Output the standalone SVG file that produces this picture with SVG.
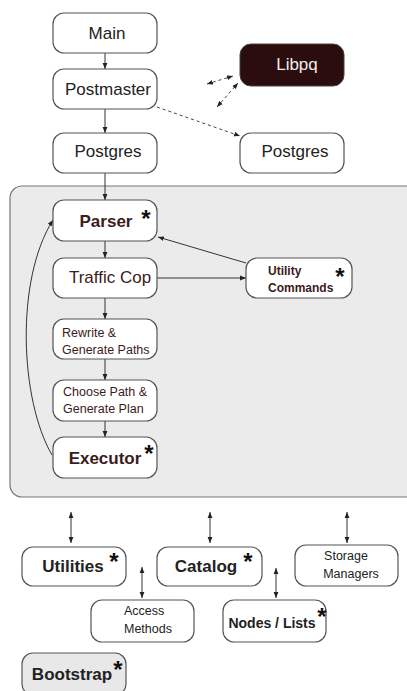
<svg xmlns="http://www.w3.org/2000/svg" width="407" height="691" viewBox="0 0 407 691">
<defs>
<marker id="ah" viewBox="0 0 10 10" refX="10" refY="5" markerWidth="6" markerHeight="6" orient="auto-start-reverse" markerUnits="userSpaceOnUse">
<path d="M0,1 L10,5 L0,9 Z" fill="#222"/>
</marker>
</defs>
<style>
.box{fill:#fff;stroke:#555;stroke-width:1.2}
.t{font-family:"Liberation Sans",Arial,sans-serif;fill:#222}
.b{font-weight:bold}
.br{fill:#3b1c1c}
.ln{fill:none;stroke:#333;stroke-width:1}
.ds{fill:none;stroke:#444;stroke-width:1;stroke-dasharray:3,3}
.ast{font-family:"Liberation Sans",Arial,sans-serif;font-weight:bold;font-size:24px;fill:#111}
</style>
<rect x="10" y="186" width="410" height="311" rx="12" fill="#ebebeb" stroke="#777" stroke-width="1.2"/>
<g id="connectors">
<line class="ln" x1="105" y1="53" x2="105" y2="69" marker-end="url(#ah)"/>
<line class="ln" x1="105" y1="109" x2="105" y2="133" marker-end="url(#ah)"/>
<line class="ds" x1="157" y1="107" x2="240" y2="136" marker-end="url(#ah)"/>
<line class="ds" x1="207" y1="84" x2="233" y2="76" marker-start="url(#ah)" marker-end="url(#ah)"/>
<line class="ds" x1="217" y1="107" x2="238" y2="83" marker-start="url(#ah)" marker-end="url(#ah)"/>
<line class="ln" x1="105" y1="173" x2="105" y2="200" marker-end="url(#ah)"/>
<line class="ln" x1="105" y1="241" x2="105" y2="258" marker-end="url(#ah)"/>
<line class="ln" x1="157" y1="278" x2="246" y2="278" marker-end="url(#ah)"/>
<line class="ln" x1="246" y1="263" x2="158" y2="237" marker-end="url(#ah)"/>
<line class="ln" x1="105" y1="298" x2="105" y2="319" marker-end="url(#ah)"/>
<line class="ln" x1="105" y1="359" x2="105" y2="380" marker-end="url(#ah)"/>
<line class="ln" x1="105" y1="421" x2="105" y2="437" marker-end="url(#ah)"/>
<path class="ln" d="M52,455 C20,400 15,280 53,220" marker-end="url(#ah)"/>
<line class="ln" x1="71" y1="512" x2="71" y2="543" marker-start="url(#ah)" marker-end="url(#ah)"/>
<line class="ln" x1="210" y1="512" x2="210" y2="543" marker-start="url(#ah)" marker-end="url(#ah)"/>
<line class="ln" x1="347" y1="512" x2="347" y2="543" marker-start="url(#ah)" marker-end="url(#ah)"/>
<line class="ln" x1="142" y1="567" x2="142" y2="598" marker-start="url(#ah)" marker-end="url(#ah)"/>
<line class="ln" x1="276" y1="568" x2="276" y2="598" marker-start="url(#ah)" marker-end="url(#ah)"/>
</g>
<g id="main"><rect class="box" x="53" y="13" width="104" height="40" rx="11"/><text class="t" x="107" y="39" font-size="17" text-anchor="middle">Main</text></g>
<g id="postmaster"><rect class="box" x="53" y="69" width="104" height="40" rx="11"/><text class="t" x="108" y="95" font-size="17" text-anchor="middle">Postmaster</text></g>
<g id="postgres1"><rect class="box" x="53" y="133" width="104" height="40" rx="11"/><text class="t" x="108" y="157" font-size="17" text-anchor="middle">Postgres</text></g>
<g id="libpq"><rect x="240" y="44" width="104" height="42" rx="11" fill="#2c0d0d" stroke="#444" stroke-width="1"/><text class="t" x="297" y="70" font-size="17" text-anchor="middle" style="fill:#eee">Libpq</text></g>
<g id="postgres2"><rect class="box" x="240" y="133" width="104" height="40" rx="11"/><text class="t" x="295" y="157" font-size="17" text-anchor="middle">Postgres</text></g>
<g id="parser"><rect class="box" x="53" y="200" width="104" height="41" rx="11"/><text class="t b br" x="106" y="227" font-size="17" text-anchor="middle">Parser</text><text class="ast" x="146" y="227" text-anchor="middle">*</text></g>
<g id="trafficcop"><rect class="box" x="53" y="258" width="104" height="40" rx="11"/><text class="t br" x="110" y="283" font-size="17" text-anchor="middle">Traffic Cop</text></g>
<g id="utility"><rect class="box" x="246" y="258" width="106" height="40" rx="11"/><text class="t b br" x="268" y="275" font-size="12">Utility</text><text class="t b br" x="268" y="292" font-size="12">Commands</text><text class="ast" x="340" y="285" text-anchor="middle">*</text></g>
<g id="rewrite"><rect class="box" x="53" y="319" width="104" height="40" rx="11"/><text class="t br" x="62" y="337" font-size="12.5">Rewrite &amp;</text><text class="t br" x="62" y="354" font-size="12.5">Generate Paths</text></g>
<g id="choose"><rect class="box" x="53" y="380" width="104" height="41" rx="11"/><text class="t br" x="63" y="396" font-size="12.5">Choose Path &amp;</text><text class="t br" x="63" y="413" font-size="12.5">Generate Plan</text></g>
<g id="executor"><rect class="box" x="53" y="437" width="104" height="41" rx="11"/><text class="t b br" x="105" y="464" font-size="17" text-anchor="middle">Executor</text><text class="ast" x="149" y="462" text-anchor="middle">*</text></g>
<g id="utilities"><rect class="box" x="22" y="547" width="104" height="39" rx="11"/><text class="t b" x="73" y="572" font-size="17" text-anchor="middle">Utilities</text><text class="ast" x="114" y="570" text-anchor="middle">*</text></g>
<g id="catalog"><rect class="box" x="157" y="547" width="105" height="39" rx="11"/><text class="t b" x="206" y="572" font-size="17" text-anchor="middle">Catalog</text><text class="ast" x="248" y="570" text-anchor="middle">*</text></g>
<g id="storage"><rect class="box" x="295" y="545" width="103" height="41" rx="11"/><text class="t" x="346" y="560" font-size="12.5" text-anchor="middle">Storage</text><text class="t" x="351" y="578" font-size="12.5" text-anchor="middle">Managers</text></g>
<g id="access"><rect class="box" x="91" y="600" width="103" height="42" rx="11"/><text class="t" x="124" y="615" font-size="12.5">Access</text><text class="t" x="124" y="633" font-size="12.5">Methods</text></g>
<g id="nodes"><rect class="box" x="223" y="600" width="103" height="42" rx="11"/><text class="t b" x="272" y="628" font-size="14" text-anchor="middle">Nodes / Lists</text><text class="ast" x="322" y="625" text-anchor="middle">*</text></g>
<g id="bootstrap"><rect x="22" y="653" width="104" height="42" rx="11" fill="#e8e8e8" stroke="#555" stroke-width="1.2"/><text class="t b" x="72" y="680" font-size="17" text-anchor="middle">Bootstrap</text><text class="ast" x="118" y="678" text-anchor="middle">*</text></g>
</svg>
